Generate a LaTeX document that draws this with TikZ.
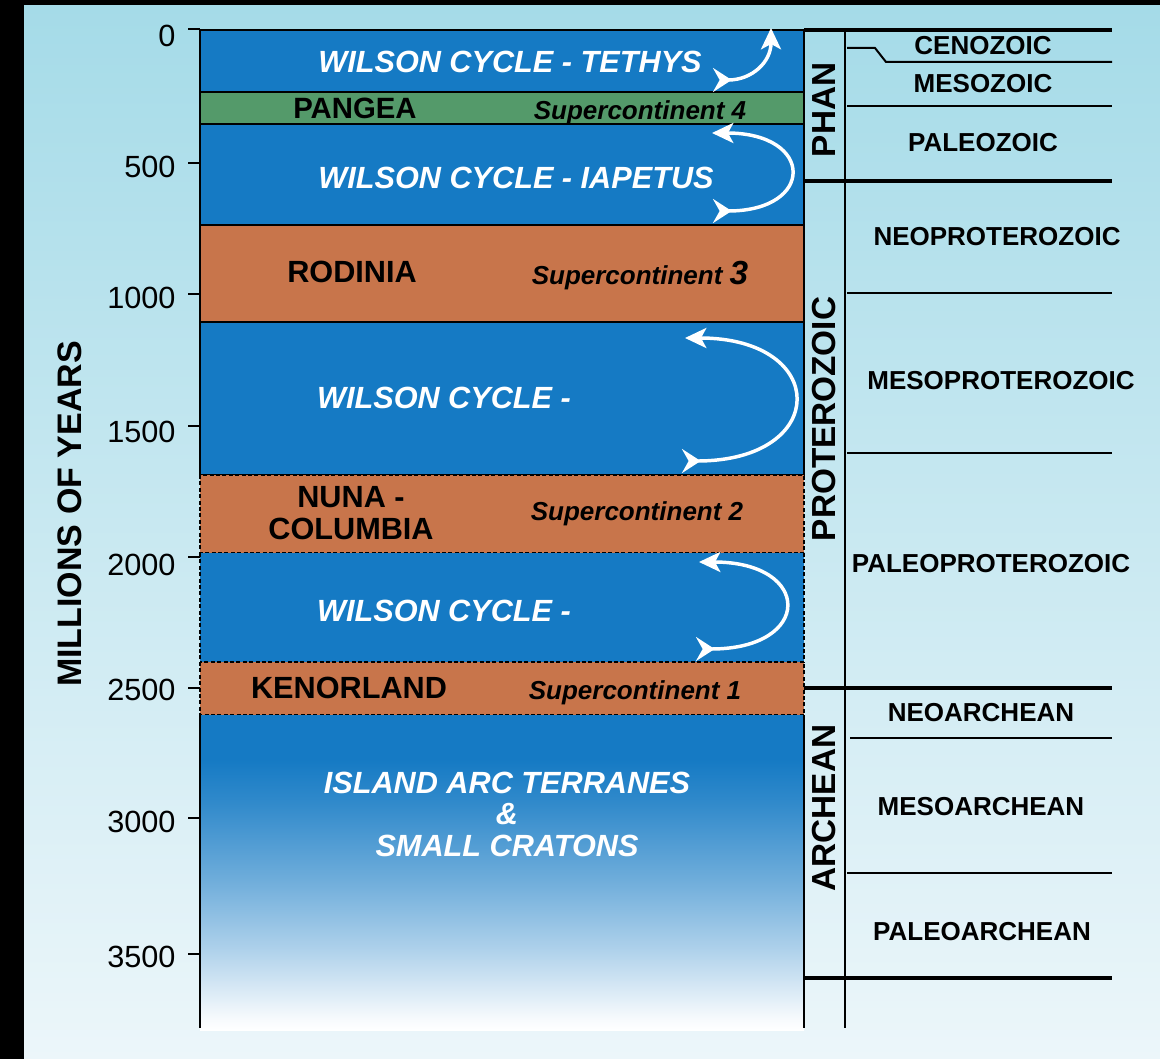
\documentclass[tikz,border=0pt]{standalone}
\usepackage{fontspec}
\setmainfont{Liberation Sans}
\usetikzlibrary{arrows.meta}

\definecolor{skytop}{RGB}{165,219,232}
\definecolor{skybot}{RGB}{236,246,250}
\definecolor{ocean}{RGB}{21,122,196}
\definecolor{pangeagreen}{RGB}{84,154,106}
\definecolor{supercont}{RGB}{200,117,75}

\pgfdeclareverticalshading{arcfade}{100bp}{color(0bp)=(white); color(25bp)=(white); color(27bp)=(white!96!ocean); color(38bp)=(ocean!35!white); color(49bp)=(ocean!62!white); color(61bp)=(ocean!88!white); color(68bp)=(ocean); color(100bp)=(ocean)}

\tikzset{every picture/.style={line width=0.75pt}}
\tikzset{
  band/.style={draw=black, line width=1.6},
  dashband/.style={draw=black, line width=2, dash pattern=on 3pt off 1.8pt},
  thinrule/.style={line width=1.5},
  thickrule/.style={line width=2.6},
  wilson/.style={white, font=\fontsize{23}{23.6}\selectfont\bfseries\itshape, inner sep=0.75pt},
  cname/.style={black, font=\fontsize{23}{24}\selectfont\bfseries, inner sep=0.75pt, align=center},
  sctag/.style={black, font=\fontsize{19.5}{20}\selectfont\bfseries\itshape, inner sep=0.75pt, text depth=0pt},
  period/.style={black, font=\fontsize{19.5}{20}\selectfont\bfseries, inner sep=0.75pt},
  eon/.style={black, font=\fontsize{25}{26}\selectfont\bfseries, inner sep=0.75pt, rotate=90},
  ticklab/.style={black, font=\fontsize{23}{24}\selectfont, inner sep=0.75pt, anchor=east},
  cyclearrow/.style={draw=white, line width=2.6, arrows={Stealth[reversed, length=14pt, width=18pt, inset=5pt]-Stealth[length=16pt, width=15pt, inset=4pt]}},
}

\begin{document}
\begin{tikzpicture}[x=0.75pt,y=0.75pt,yscale=-1,xscale=1]
\useasboundingbox (0,0) rectangle (1160,1059);

%Shape: Rectangle [id:frame]
\fill [black] (0,0) rectangle (1160,1059);
%Shape: Rectangle [id:sky]
\fill [top color=skytop, bottom color=skybot] (24,6) rectangle (1160,1059);

%Shape: Rectangle [id:tethys]
\draw [band, fill=ocean] (200,30) rectangle (804,92);
%Shape: Rectangle [id:pangea]
\draw [band, fill=pangeagreen] (200,92) rectangle (804,124);
%Shape: Rectangle [id:iapetus]
\draw [band, fill=ocean] (200,124) rectangle (804,225);
%Shape: Rectangle [id:rodinia]
\draw [band, fill=supercont] (200,225) rectangle (804,322);
%Shape: Rectangle [id:mesowilson]
\draw [band, fill=ocean] (200,322) rectangle (804,475);
%Shape: Rectangle [id:nuna]
\draw [dashband, fill=supercont] (200,475) rectangle (804,553);
%Shape: Rectangle [id:paleowilson]
\fill [ocean] (200,553) rectangle (804,662);
\draw [dashband] (200,553) -- (200,662) (804,553) -- (804,662);
%Shape: Rectangle [id:kenorland]
\draw [dashband, fill=supercont] (200,662) rectangle (804,715);
%Shape: Rectangle [id:arcs]
\shade [shading=arcfade] (200,715) rectangle (804,1030);

%Straight Lines [id:axis]
\draw [thinrule] (200,715) -- (200,1028);
\draw [thinrule] (804,715) -- (804,1028);
\draw [thinrule] (845,30) -- (845,1028);

%Straight Lines [id:ticks]
\draw [thinrule] (188,29) -- (200,29);
\draw [thinrule] (188,163) -- (200,163);
\draw [thinrule] (188,294) -- (200,294);
\draw [thinrule] (188,426) -- (200,426);
\draw [thinrule] (188,557) -- (200,557);
\draw [thinrule] (188,688) -- (200,688);
\draw [thinrule] (188,818) -- (200,818);
\draw [thinrule] (188,954) -- (200,954);

% Text Node
\draw (177,36) node [ticklab] (t0) {0};
% Text Node
\draw (177,167) node [ticklab] (t500) {500};
% Text Node
\draw (177,298) node [ticklab] (t1000) {1000};
% Text Node
\draw (177,432) node [ticklab] (t1500) {1500};
% Text Node
\draw (177,565) node [ticklab] (t2000) {2000};
% Text Node
\draw (177,690) node [ticklab] (t2500) {2500};
% Text Node
\draw (177,822) node [ticklab] (t3000) {3000};
% Text Node
\draw (177,957) node [ticklab] (t3500) {3500};
% Text Node
\draw (70,514) node [eon, font=\fontsize{25.5}{26}\selectfont\bfseries] (ylabel) {MILLIONS OF YEARS};

%Straight Lines [id:periods]
\draw [thickrule] (804,30) -- (1112,30);
\draw [thinrule] (847,48) -- (875,48) -- (886,62) -- (1112,62);
\draw [thinrule] (847,106) -- (1112,106);
\draw [thickrule] (804,181) -- (1112,181);
\draw [thinrule] (847,293) -- (1112,293);
\draw [thinrule] (847,453) -- (1112,453);
\draw [thickrule] (804,688) -- (1112,688);
\draw [thinrule] (850,738) -- (1112,738);
\draw [thinrule] (847,873) -- (1112,873);
\draw [thickrule] (804,978) -- (1112,978);

%Curve Lines [id:cycles]
\coordinate (tA) at (713,80);
\coordinate (tB) at (771,28);
\draw [cyclearrow] (tA) .. controls (752,80) and (771,62) .. (tB);
\coordinate (iA) at (713,211);
\coordinate (iB) at (712,133);
\draw [cyclearrow] (iA) .. controls (815,211) and (815,133) .. (iB);
\coordinate (mA) at (682,461);
\coordinate (mB) at (685,338);
\draw [cyclearrow] (mA) .. controls (830,461) and (830,338) .. (mB);
\coordinate (pA) at (696,649);
\coordinate (pB) at (699,562);
\draw [cyclearrow] (pA) .. controls (813,649) and (813,562) .. (pB);

% Text Node
\draw (510,62) node [wilson] (tethys) {WILSON CYCLE - TETHYS};
% Text Node
\draw (355,108) node [cname, font=\fontsize{22}{23}\selectfont\bfseries] (pangea) {PANGEA};
% Text Node
\draw (640,110) node [sctag] (sc4) {Supercontinent 4};
% Text Node
\draw (516,178) node [wilson] (iapetus) {WILSON CYCLE - IAPETUS};
% Text Node
\draw (352,272) node [cname] (rodinia) {RODINIA};
% Text Node
\draw (640,273) node [sctag] (sc3) {Supercontinent {\fontsize{25}{25}\selectfont 3}};
% Text Node
\draw (444,398) node [wilson] (mesocyc) {WILSON CYCLE -};
% Text Node
\draw (351,513) node [cname] (nuna) {NUNA -\\COLUMBIA};
% Text Node
\draw (637,511) node [sctag] (sc2) {Supercontinent 2};
% Text Node
\draw (444,611) node [wilson] (paleocyc) {WILSON CYCLE -};
% Text Node
\draw (349,688) node [cname] (kenorland) {KENORLAND};
% Text Node
\draw (635,690) node [sctag] (sc1) {Supercontinent 1};
% Text Node
\draw (507,814) node [wilson, align=center] (arcs) {ISLAND ARC TERRANES\\\&\\SMALL CRATONS};

% Text Node
\draw (824,110) node [eon] (phan) {PHAN};
% Text Node
\draw (824,419) node [eon] (prot) {PROTEROZOIC};
% Text Node
\draw (824,808) node [eon] (arch) {ARCHEAN};

% Text Node
\draw (983,46) node [period] (ceno) {CENOZOIC};
% Text Node
\draw (983,83.5) node [period] (meso) {MESOZOIC};
% Text Node
\draw (983,143) node [period] (paleo) {PALEOZOIC};
% Text Node
\draw (997,237) node [period] (neoprot) {NEOPROTEROZOIC};
% Text Node
\draw (1001,381) node [period] (mesoprot) {MESOPROTEROZOIC};
% Text Node
\draw (991,564) node [period] (paleoprot) {PALEOPROTEROZOIC};
% Text Node
\draw (981,713) node [period] (neoarch) {NEOARCHEAN};
% Text Node
\draw (981,807) node [period] (mesoarch) {MESOARCHEAN};
% Text Node
\draw (982,932) node [period] (paleoarch) {PALEOARCHEAN};

\end{tikzpicture}
\end{document}
